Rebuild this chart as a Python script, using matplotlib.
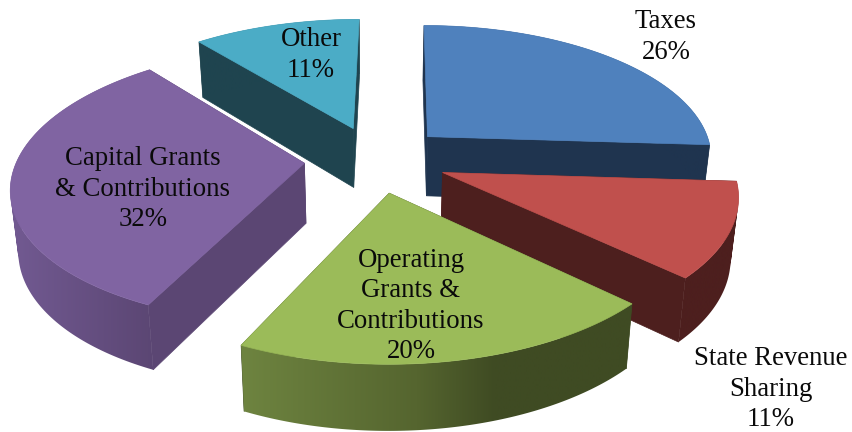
import numpy as np
import matplotlib
matplotlib.use("Agg")
import matplotlib.pyplot as plt
from matplotlib.colors import LinearSegmentedColormap
from matplotlib.path import Path

names = ["Taxes", "State Revenue\nSharing", "Operating\nGrants &\nContributions",
         "Capital Grants\n& Contributions", "Other"]
values = [26, 11, 20, 32, 11]
top_colors = ["#4F81BD", "#C0504D", "#9BBB59", "#8064A2", "#4BACC6"]
flat_colors = ["#1F344F", "#4D1F1E", "#3F4B23", "#5B4673", "#1F444F"]
arc_colors = [["#1F344F", "#1F344F"], ["#4D1F1E", "#4D1F1E"],
              [(0, "#6E8440"), (0.45, "#55652F"), (0.65, "#3F4B23"), (1, "#3F4B23")],
              ["#725A92", "#5B4673"], ["#1F444F", "#1F444F"]]
label_xy = [(666, 37), (771, 389), (411, 306), (143, 189), (311, 55)]
draw_order = [4, 0, 3, 1, 2]

# projection of the tilted disc, pixel units
CX, CY = 376, 159
A, B = 287, 134
P = 0.15
SHEAR = 3
EXPLODE = 0.25
DROP = 60


def project(X, Y, bottom=False):
    w = 1 + P * Y
    x = CX + A * X / w + SHEAR * Y
    y = CY - B * Y / w
    if bottom:
        x = CX + (x - CX) * 0.978
        y = y + DROP / (1 + 0.08 * Y)
    return x, y


def wall_path(tx, ty, bx, by):
    # all quads wound the same way so the union fills with no notch
    verts, codes = [], []
    for k in range(len(tx) - 1):
        q = [(tx[k], ty[k]), (tx[k + 1], ty[k + 1]), (bx[k + 1], by[k + 1]), (bx[k], by[k])]
        xs, ys = zip(*q)
        area = sum(xs[j] * ys[(j + 1) % 4] - xs[(j + 1) % 4] * ys[j] for j in range(4))
        if area < 0:
            q = q[::-1]
        verts += q + [q[0]]
        codes += [Path.MOVETO, Path.LINETO, Path.LINETO, Path.LINETO, Path.CLOSEPOLY]
    return Path(verts, codes)


fig = plt.figure(figsize=(8.53, 4.32), dpi=100)
ax = fig.add_axes([0, 0, 1, 1])
ax.axis("off")

edges = np.cumsum([0] + values) / sum(values) * 2 * np.pi
z = 1

for i in draw_order:
    a0, a1 = edges[i], edges[i + 1]
    mid = (a0 + a1) / 2
    ox, oy = EXPLODE * np.sin(mid), EXPLODE * np.cos(mid)
    t = np.linspace(a0, a1, 120)
    X = ox + np.sin(t)
    Y = oy + np.cos(t)
    tx, ty = project(X, Y)
    bx, by = project(X, Y, bottom=True)
    ax0, ay0 = project(ox, oy)
    bx0, by0 = project(ox, oy, bottom=True)

    # flat cut walls
    for k in (0, -1):
        ax.fill([ax0, tx[k], bx[k], bx0], [ay0, ty[k], by[k], by0],
                color=flat_colors[i], lw=0.5, zorder=z)
    z += 1
    # outer wall, shaded left to right
    cmap = LinearSegmentedColormap.from_list("w", arc_colors[i])
    img = ax.imshow(np.linspace(0, 1, 256)[None, :], cmap=cmap, aspect="auto",
                    extent=[min(tx.min(), bx.min()), max(tx.max(), bx.max()), 432, 0],
                    zorder=z, interpolation="bilinear")
    img.set_clip_path(wall_path(tx, ty, bx, by), transform=ax.transData)
    z += 1
    # top face
    ax.fill(np.r_[ax0, tx], np.r_[ay0, ty], color=top_colors[i], lw=0.5, zorder=z)
    z += 1

ax.set_xlim(0, 853)
ax.set_ylim(432, 0)

for name, v, (lx, ly) in zip(names, values, label_xy):
    ax.text(lx, ly, f"{name}\n{v}%", ha="center", va="center", family="Liberation Serif",
            fontsize=19.3, linespacing=1.285, color="#0a0a0a", zorder=z)

fig.savefig("out.png", dpi=100)
